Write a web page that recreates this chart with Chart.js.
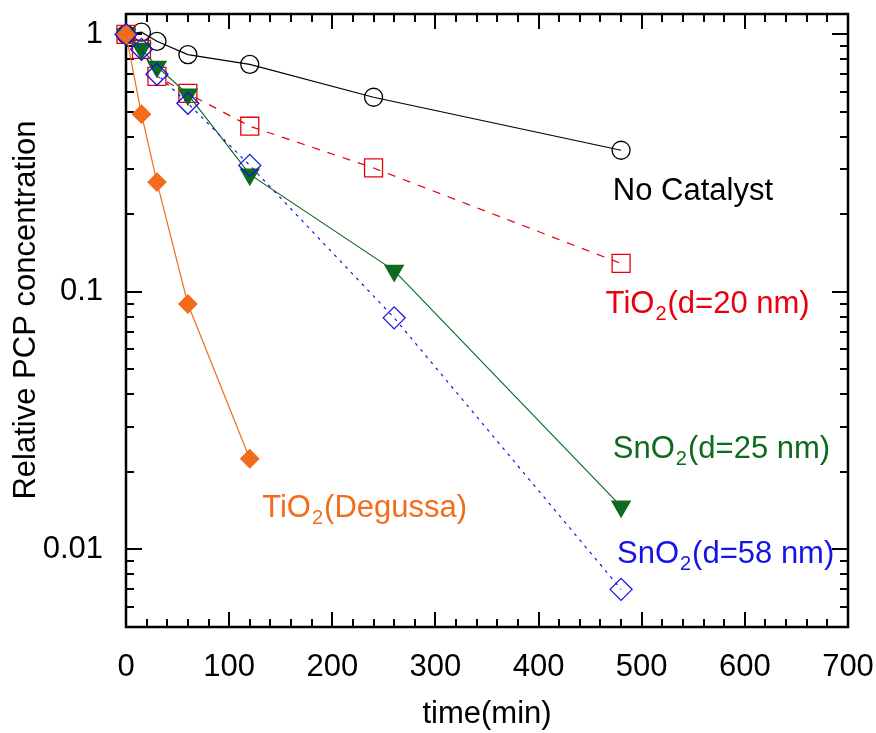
<!DOCTYPE html>
<html><head><meta charset="utf-8">
<script src="https://cdn.jsdelivr.net/npm/chart.js@4.4.0/dist/chart.umd.min.js"></script>
<style>html,body{margin:0;padding:0;background:#fff}</style>
</head><body>
<canvas id="c" width="876" height="733"></canvas>
<script>
// ---- data ----
const timeNoCatalyst = [0, 15, 30, 60, 120, 240, 480];
const noCatalyst     = [1, 1.02, 0.94, 0.835, 0.765, 0.57, 0.355];
const timeTiO2_20    = [0, 15, 30, 60, 120, 240, 480];
const tio2_20        = [1, 0.875, 0.687, 0.59, 0.44, 0.303, 0.129];
const timeSnO2_25    = [0, 15, 30, 60, 120, 260, 480];
const sno2_25        = [1, 0.88, 0.75, 0.585, 0.286, 0.121, 0.0147];
const timeSnO2_58    = [0, 15, 30, 60, 120, 260, 480];
const sno2_58        = [1, 0.875, 0.70, 0.54, 0.31, 0.0793, 0.0070];
const timeDegussa    = [0, 15, 30, 60, 120];
const degussa        = [1, 0.49, 0.267, 0.0898, 0.0225];

const xTickLabels = [0, 100, 200, 300, 400, 500, 600, 700];
const yTickLabels = [0.01, 0.1, 1];

const labelTexts = [
  {main: 'No Catalyst', sub: '', rest: ''},
  {main: 'TiO', sub: '2', rest: '(d=20 nm)'},
  {main: 'SnO', sub: '2', rest: '(d=25 nm)'},
  {main: 'SnO', sub: '2', rest: '(d=58 nm)'},
  {main: 'TiO', sub: '2', rest: '(Degussa)'}
];
// anchors (data coordinates: minutes, concentration) for labels
const labelX = [472, 465, 472, 476, 132];
const labelY = [0.228, 0.0825, 0.0226, 0.00886, 0.01335];

// ---- styles ----
const COL = {black:'#000000', red:'#e8000c', green:'#0d6a1e', blue:'#1414e6', orange:'#f26c1c'};
const labelColors = [COL.black, COL.red, COL.green, COL.blue, COL.orange];
const FONT = '"Liberation Sans", Arial, Helvetica, sans-serif';

const pts = (xs, ys) => xs.map((x, i) => ({x, y: ys[i]}));

const frameTicks = {
  id: 'frameTicks',
  beforeDatasetsDraw(chart) {
    const {ctx, chartArea: a, scales: {x, y}} = chart;
    ctx.save();
    ctx.strokeStyle = '#000';
    ctx.lineWidth = 2;
    ctx.beginPath();
    for (let v = x.min; v <= x.max + 1e-9; v += 20) {
      const px = Math.round(x.getPixelForValue(v));
      const major = xTickLabels.includes(Math.round(v));
      const L = major ? 15 : 8;
      ctx.moveTo(px, a.bottom); ctx.lineTo(px, a.bottom - L);
      ctx.moveTo(px, a.top); ctx.lineTo(px, a.top + L);
    }
    for (let d = 0.001; d <= 10; d *= 10) {
      for (let m = 1; m <= 9; m++) {
        const v = m * d;
        if (v < y.min || v > y.max) continue;
        const py = Math.round(y.getPixelForValue(v));
        const L = m === 1 ? 16 : 8;
        ctx.moveTo(a.left, py); ctx.lineTo(a.left + L, py);
        ctx.moveTo(a.right, py); ctx.lineTo(a.right - L, py);
      }
    }
    ctx.stroke();
    ctx.lineWidth = 2.5;
    ctx.strokeRect(a.left, a.top, a.right - a.left, a.bottom - a.top);
    ctx.restore();
  },
  afterDraw(chart) {
    const {ctx, chartArea: a, scales: {x, y}} = chart;
    ctx.save();
    ctx.fillStyle = '#000';
    ctx.textBaseline = 'alphabetic';
    ctx.font = '31px ' + FONT;
    ctx.textAlign = 'center';
    ctx.fillText('time(min)', (a.left + a.right) / 2, 723);
    ctx.save();
    ctx.translate(35, 310);
    ctx.rotate(-Math.PI / 2);
    ctx.fillText('Relative PCP concentration', 0, 0);
    ctx.restore();
    ctx.textAlign = 'left';
    labelTexts.forEach((t, i) => {
      let px = x.getPixelForValue(labelX[i]);
      const py = y.getPixelForValue(labelY[i]);
      ctx.fillStyle = labelColors[i];
      ctx.font = '31px ' + FONT;
      ctx.fillText(t.main, px, py);
      px += ctx.measureText(t.main).width;
      if (t.sub) {
        ctx.font = '20px ' + FONT;
        ctx.fillText(t.sub, px + 1, py + 7);
        px += ctx.measureText(t.sub).width + 2;
      }
      if (t.rest) {
        ctx.font = '31px ' + FONT;
        ctx.fillText(t.rest, px, py);
      }
    });
    ctx.restore();
  }
};

const common = {showLine: true, clip: false, pointBorderWidth: 1.3, borderWidth: 1.2, tension: 0};

new Chart(document.getElementById('c'), {
  type: 'scatter',
  data: {
    datasets: [
      Object.assign({}, common, {label: 'TiO2(Degussa)', data: pts(timeDegussa, degussa),
        borderColor: COL.orange, backgroundColor: COL.orange, pointBackgroundColor: COL.orange,
        pointBorderColor: COL.orange, pointStyle: 'rectRot', pointRadius: 9, order: 0}),
      Object.assign({}, common, {label: 'SnO2(d=58 nm)', data: pts(timeSnO2_58, sno2_58),
        borderColor: COL.blue, borderDash: [3, 5], pointBackgroundColor: 'rgba(0,0,0,0)',
        pointBorderColor: COL.blue, pointStyle: 'rectRot', pointRadius: 11, order: 1}),
      Object.assign({}, common, {label: 'SnO2(d=25 nm)', data: pts(timeSnO2_25, sno2_25),
        borderColor: COL.green, pointBackgroundColor: COL.green,
        pointBorderColor: COL.green, pointStyle: 'triangle', pointRotation: 180, pointRadius: 10.5, order: 2}),
      Object.assign({}, common, {label: 'TiO2(d=20 nm)', data: pts(timeTiO2_20, tio2_20),
        borderColor: COL.red, borderDash: [8, 8], pointBackgroundColor: 'rgba(0,0,0,0)',
        pointBorderColor: COL.red, pointStyle: 'rect', pointRadius: 12.7, order: 3}),
      Object.assign({}, common, {label: 'No Catalyst', data: pts(timeNoCatalyst, noCatalyst),
        borderColor: COL.black, pointBackgroundColor: 'rgba(0,0,0,0)',
        pointBorderColor: COL.black, pointStyle: 'circle', pointRadius: 9, order: 4})
    ]
  },
  options: {
    responsive: false,
    animation: false,
    devicePixelRatio: 1,
    layout: {padding: {left: 0, top: 13, right: 28, bottom: 0}},
    plugins: {legend: {display: false}, tooltip: {enabled: false}},
    scales: {
      x: {
        type: 'linear', min: 0, max: 700,
        grid: {display: false, drawTicks: false},
        border: {display: false},
        afterFit(s) { s.height = 106; s.paddingLeft = 0; s.paddingRight = 0; },
        afterBuildTicks(s) { s.ticks = xTickLabels.map(v => ({value: v})); },
        ticks: {padding: 22, color: '#000', font: {family: FONT, size: 31}, callback: v => String(v), maxRotation: 0, autoSkip: false}
      },
      y: {
        type: 'logarithmic', min: 0.005, max: 1.2,
        grid: {display: false, drawTicks: false},
        border: {display: false},
        afterFit(s) { s.width = 126; s.paddingTop = 0; s.paddingBottom = 0; },
        afterBuildTicks(s) { s.ticks = yTickLabels.map(v => ({value: v})); },
        ticks: {padding: 23, color: '#000', font: {family: FONT, size: 31}, callback: v => String(v), autoSkip: false}
      }
    }
  },
  plugins: [frameTicks]
});
</script>
</body></html>
